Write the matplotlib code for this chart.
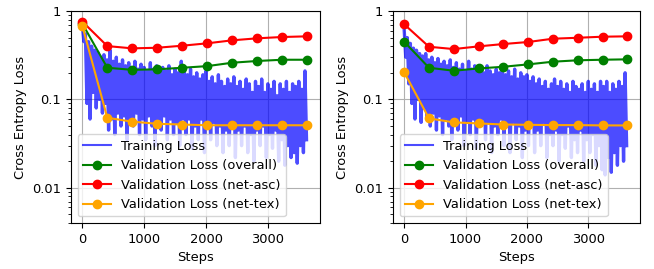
import numpy as np
import matplotlib
matplotlib.use('Agg')
import matplotlib.pyplot as plt
from matplotlib.ticker import FixedLocator, LogLocator, NullFormatter

plt.rcParams['font.size'] = 9.4

# validation checkpoints
val_steps = [0, 404, 808, 1212, 1616, 2020, 2424, 2828, 3232, 3636]

# left run
left_overall = [0.72, 0.228, 0.216, 0.219, 0.228, 0.238, 0.260, 0.272, 0.281, 0.281]
left_asc     = [0.76, 0.401, 0.378, 0.384, 0.405, 0.431, 0.466, 0.491, 0.508, 0.517]
left_tex     = [0.68, 0.062, 0.056, 0.053, 0.052, 0.051, 0.051, 0.051, 0.051, 0.051]

# right run
right_overall = [0.449, 0.228, 0.211, 0.224, 0.234, 0.249, 0.267, 0.277, 0.281, 0.284]
right_asc     = [0.707, 0.394, 0.371, 0.398, 0.423, 0.446, 0.486, 0.498, 0.512, 0.517]
right_tex     = [0.202, 0.061, 0.055, 0.0535, 0.052, 0.0516, 0.0512, 0.0512, 0.0508, 0.0508]

left_train_hi = [0.70, 0.55, 0.45, 0.40, 0.36, 0.34, 0.30, 0.32, 0.28,
                 0.36, 0.27, 0.30, 0.25, 0.28, 0.24, 0.26, 0.23,
                 0.27, 0.22, 0.25, 0.23, 0.21, 0.26, 0.22, 0.24,
                 0.20, 0.23, 0.21, 0.24, 0.19, 0.22, 0.20, 0.27,
                 0.21, 0.19, 0.22, 0.18, 0.20, 0.17, 0.19, 0.21,
                 0.16, 0.18, 0.15, 0.19, 0.16, 0.14, 0.17, 0.15,
                 0.18, 0.14, 0.16, 0.13, 0.17, 0.15, 0.12, 0.16,
                 0.14, 0.17, 0.12, 0.15, 0.13, 0.16, 0.11, 0.15,
                 0.13, 0.16, 0.12, 0.15, 0.14, 0.16, 0.13, 0.21]
left_train_lo = [0.45, 0.09, 0.06, 0.12, 0.08, 0.10, 0.07, 0.09, 0.045,
                 0.06, 0.04, 0.07, 0.05, 0.065, 0.035, 0.06, 0.05,
                 0.07, 0.04, 0.06, 0.035, 0.065, 0.05, 0.03, 0.06,
                 0.045, 0.065, 0.035, 0.06, 0.04, 0.055, 0.03, 0.06,
                 0.04, 0.06, 0.028, 0.05, 0.035, 0.06, 0.025, 0.05,
                 0.035, 0.055, 0.03, 0.05, 0.025, 0.045, 0.03, 0.055,
                 0.022, 0.045, 0.03, 0.05, 0.025, 0.04, 0.02, 0.045,
                 0.03, 0.05, 0.022, 0.04, 0.028, 0.045, 0.02, 0.035,
                 0.018, 0.03, 0.022, 0.025, 0.019, 0.03, 0.025, 0.035]
right_train_hi = [0.60, 0.50, 0.43, 0.38, 0.36, 0.33, 0.31, 0.33, 0.28,
                  0.30, 0.26, 0.29, 0.25, 0.27, 0.24, 0.28, 0.23,
                  0.26, 0.22, 0.25, 0.21, 0.27, 0.22, 0.24, 0.21,
                  0.23, 0.20, 0.24, 0.21, 0.19, 0.22, 0.20, 0.23,
                  0.19, 0.21, 0.18, 0.22, 0.17, 0.20, 0.18, 0.19,
                  0.16, 0.18, 0.15, 0.17, 0.14, 0.16, 0.13, 0.15,
                  0.17, 0.14, 0.16, 0.13, 0.15, 0.12, 0.16, 0.14,
                  0.13, 0.15, 0.12, 0.16, 0.13, 0.15, 0.12, 0.16,
                  0.14, 0.16, 0.12, 0.15, 0.13, 0.16, 0.14, 0.20]
right_train_lo = [0.30, 0.15, 0.09, 0.06, 0.10, 0.055, 0.08, 0.06, 0.05,
                  0.07, 0.045, 0.065, 0.04, 0.06, 0.05, 0.035, 0.06,
                  0.045, 0.065, 0.03, 0.055, 0.04, 0.06, 0.028, 0.05,
                  0.06, 0.035, 0.055, 0.025, 0.05, 0.04, 0.06, 0.03,
                  0.05, 0.025, 0.055, 0.035, 0.05, 0.022, 0.045, 0.03,
                  0.05, 0.025, 0.045, 0.03, 0.055, 0.022, 0.04, 0.03,
                  0.045, 0.02, 0.04, 0.028, 0.05, 0.022, 0.035, 0.025,
                  0.045, 0.02, 0.035, 0.025, 0.04, 0.018, 0.03, 0.016,
                  0.014, 0.022, 0.015, 0.025, 0.018, 0.03, 0.02, 0.03]


def train_curve(hi, lo):
	steps, vals = [], []
	for i in range(len(hi)):
		steps += [i * 50, i * 50 + 25]
		vals += [hi[i], lo[i]]
	return steps, vals


def panel(ax, hi, lo, overall, asc, tex):
	ts, tv = train_curve(hi, lo)
	# thicker stroke so the dense training curve reads as a band
	ax.plot(ts, tv, color='blue', alpha=0.7, lw=2.4, solid_joinstyle='round')
	ax.plot([], [], color='blue', alpha=0.7, lw=1.5, label='Training Loss')
	ax.plot(val_steps, overall, 'o-', color='green', ms=6, label='Validation Loss (overall)')
	ax.plot(val_steps, asc, 'o-', color='red', ms=6, label='Validation Loss (net-asc)')
	ax.plot(val_steps, tex, 'o-', color='orange', ms=6, label='Validation Loss (net-tex)')
	ax.set_yscale('log')
	ax.set_ylim(0.004, 1)
	ax.set_xlim(-183, 3843)
	ax.yaxis.set_major_locator(FixedLocator([0.01, 0.1, 1]))
	ax.set_yticklabels(['0.01', '0.1', '1'])
	ax.yaxis.set_minor_locator(LogLocator(base=10, subs=np.arange(2, 10)))
	ax.yaxis.set_minor_formatter(NullFormatter())
	ax.set_xticks([0, 1000, 2000, 3000])
	ax.grid(True, which='major')
	ax.set_xlabel('Steps')
	ax.set_ylabel('Cross Entropy Loss')
	ax.legend(loc='lower left', handlelength=2.13)


fig = plt.figure(figsize=(6.54, 2.69), dpi=100)
ax1 = fig.add_axes([71 / 654, 46 / 269, 249 / 654, 212 / 269])
ax2 = fig.add_axes([393 / 654, 46 / 269, 247 / 654, 212 / 269])

panel(ax1, left_train_hi, left_train_lo, left_overall, left_asc, left_tex)
panel(ax2, right_train_hi, right_train_lo, right_overall, right_asc, right_tex)

fig.savefig('out.png', dpi=100)
